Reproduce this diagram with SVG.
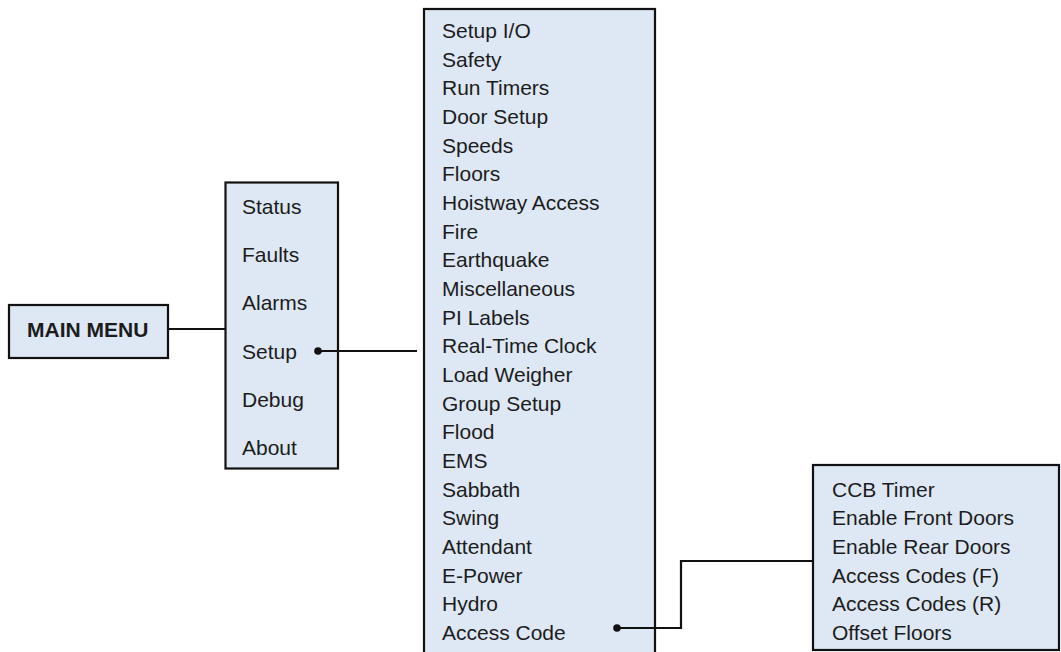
<svg xmlns="http://www.w3.org/2000/svg" width="1061" height="652" viewBox="0 0 1061 652">
<style>
.box{fill:#dde8f4;stroke:#111;stroke-width:2.2}
.t{font-family:"Liberation Sans",Arial,sans-serif;font-size:21px;fill:#1c1c1c}
.b{font-family:"Liberation Sans",Arial,sans-serif;font-size:21px;font-weight:bold;fill:#1c1c1c}
.c{fill:none;stroke:#111;stroke-width:2.2}
.dot{fill:#111}
</style>
<rect width="1061" height="652" fill="#fff"/>
<g id="main-menu">
<rect class="box" x="9" y="305" width="159" height="53"/>
<text class="b" x="27" y="336.5">MAIN MENU</text>
</g>
<g id="menu">
<rect class="box" x="225.5" y="182.5" width="112.5" height="286"/>
<text class="t" x="242" y="214">Status</text>
<text class="t" x="242" y="262.2">Faults</text>
<text class="t" x="242" y="310.4">Alarms</text>
<text class="t" x="242" y="358.6">Setup</text>
<text class="t" x="242" y="406.8">Debug</text>
<text class="t" x="242" y="455">About</text>
</g>
<g id="setup-menu">
<rect class="box" x="424" y="9" width="231" height="660"/>
<text class="t" x="442" y="38">Setup I/O</text>
<text class="t" x="442" y="66.7">Safety</text>
<text class="t" x="442" y="95.3">Run Timers</text>
<text class="t" x="442" y="124">Door Setup</text>
<text class="t" x="442" y="152.7">Speeds</text>
<text class="t" x="442" y="181.4">Floors</text>
<text class="t" x="442" y="210">Hoistway Access</text>
<text class="t" x="442" y="238.7">Fire</text>
<text class="t" x="442" y="267.4">Earthquake</text>
<text class="t" x="442" y="296">Miscellaneous</text>
<text class="t" x="442" y="324.7">PI Labels</text>
<text class="t" x="442" y="353.4">Real-Time Clock</text>
<text class="t" x="442" y="382">Load Weigher</text>
<text class="t" x="442" y="410.7">Group Setup</text>
<text class="t" x="442" y="439.4">Flood</text>
<text class="t" x="442" y="468">EMS</text>
<text class="t" x="442" y="496.7">Sabbath</text>
<text class="t" x="442" y="525.4">Swing</text>
<text class="t" x="442" y="554">Attendant</text>
<text class="t" x="442" y="582.7">E-Power</text>
<text class="t" x="442" y="611.4">Hydro</text>
<text class="t" x="442" y="640">Access Code</text>
</g>
<g id="access-code-menu">
<rect class="box" x="813" y="465" width="246" height="185"/>
<text class="t" x="832" y="496.5">CCB Timer</text>
<text class="t" x="832" y="525.2">Enable Front Doors</text>
<text class="t" x="832" y="553.9">Enable Rear Doors</text>
<text class="t" x="832" y="582.6">Access Codes (F)</text>
<text class="t" x="832" y="611.3">Access Codes (R)</text>
<text class="t" x="832" y="640">Offset Floors</text>
</g>
<g id="connectors">
<line class="c" x1="168" y1="329" x2="226" y2="329"/>
<line class="c" x1="318" y1="351" x2="417" y2="351"/>
<circle class="dot" cx="318" cy="351" r="3.8"/>
<polyline class="c" points="617,628 681,628 681,561 813,561"/>
<circle class="dot" cx="617" cy="628" r="3.8"/>
</g>
</svg>
